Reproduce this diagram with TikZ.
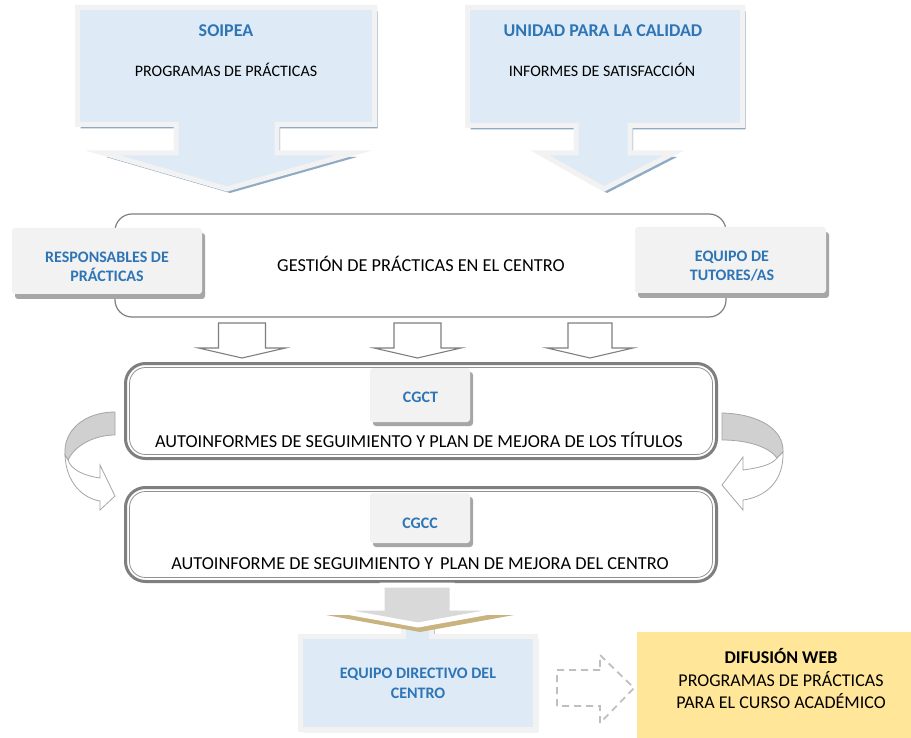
\documentclass[tikz,border=0pt]{standalone}
\usepackage{fontspec}
\setmainfont{Carlito}
\definecolor{lblue}{HTML}{DEEBF7}
\definecolor{bord}{HTML}{F2F2F2}
\definecolor{shblue}{HTML}{8FAAC4}
\definecolor{lgray}{HTML}{F2F2F2}
\definecolor{shgray}{HTML}{A6A6A6}
\definecolor{tblue}{HTML}{2E75B6}
\definecolor{lgr}{HTML}{7F7F7F}
\definecolor{goldsh}{HTML}{C9B37F}
\definecolor{yel}{HTML}{FFE699}
\definecolor{dgray}{HTML}{BFBFBF}
\definecolor{bandfill}{HTML}{D0D0D0}
\definecolor{bandline}{HTML}{A5A5A5}
\definecolor{stemgray}{HTML}{D9D9D9}
\begin{document}
\begin{tikzpicture}[x=1pt,y=-1pt,
  callout/.style={fill=lblue, draw=bord, line width=5pt, line join=miter},
  calloutshadow/.style={fill=shblue},
  labelbox/.style={fill=lgray, rounded corners=3pt},
  labelshadow/.style={fill=shgray, rounded corners=3pt},
  btitle/.style={font=\fontsize{18}{22}\selectfont\bfseries, text=tblue, inner sep=0pt, anchor=base},
  blabel/.style={font=\fontsize{16}{19.5}\selectfont\bfseries, text=tblue, inner sep=0pt, anchor=base, align=center},
  ttext/.style={font=\fontsize{16}{19}\selectfont, inner sep=0pt, anchor=base},
  bigtext/.style={font=\fontsize{18.3}{22}\selectfont, inner sep=0pt, anchor=base, align=center},
  hollow/.style={draw=lgr, fill=white, line width=1.1pt, line join=miter},
  outerline/.style={draw=lgr, line width=3pt, rounded corners=20pt},
  innerline/.style={draw=lgr!85, line width=0.8pt, rounded corners=16pt},
  bandstyle/.style={fill=bandfill, draw=bandline, line width=0.8pt},
  frontstyle/.style={fill=white, draw=bandline, line width=0.8pt},
  dasharrow/.style={draw=dgray, line width=1.8pt, dash pattern=on 7pt off 5pt},
  stemarrow/.style={fill=stemgray, draw=white, line width=5pt, line join=miter}
]
\useasboundingbox (0,0) rectangle (911,738);
\fill[white] (0,0) rectangle (911,738);

% ---------- top callout arrows ----------
\def\soipea{(77.5,7.5) -- (374.5,7.5) -- (374.5,124.5) -- (277,124.5) -- (277,153) -- (354,153) -- (227,189) -- (103,153) -- (176,153) -- (176,124.5) -- (77.5,124.5) -- cycle}
\fill[calloutshadow, shift={(3,4)}] \soipea;
\path[callout] \soipea;
\node[btitle] (soipea) at (226,37) {SOIPEA};
\node[ttext] (progs) at (226,77) {PROGRAMAS DE PRÁCTICAS};

\def\unidad{(467.5,7.5) -- (742.5,7.5) -- (742.5,125.5) -- (630,125.5) -- (630,153) -- (674,153) -- (604,189) -- (540,153) -- (576,153) -- (576,125.5) -- (467.5,125.5) -- cycle}
\fill[calloutshadow, shift={(3,4)}] \unidad;
\path[callout] \unidad;
\node[btitle] (unidad) at (603,37) {UNIDAD PARA LA CALIDAD};
\node[ttext] (informes) at (602,77) {INFORMES DE SATISFACCIÓN};

% ---------- gestion box ----------
\draw[draw=lgr, line width=1.2pt, rounded corners=17pt, fill=white] (115,214) rectangle (726,317);
\node[bigtext] (gestion) at (421,272) {GESTIÓN DE PRÁCTICAS EN EL CENTRO};

\fill[labelshadow] (15,233) rectangle (205,299);
\fill[labelbox] (12,228) rectangle (202,294);
\node[blabel] (resp) at (107,282) {RESPONSABLES DE\\PRÁCTICAS};

\fill[labelshadow] (638,232) rectangle (829,298);
\fill[labelbox] (635,227) rectangle (826,293);
\node[blabel] (tutores) at (732,281) {EQUIPO DE\\TUTORES/AS};

% ---------- hollow arrows ----------
\foreach \cx/\sh/\hh in {242/23.5/43.5, 417.5/23.5/43.5, 590/22/43}{
  \draw[hollow] (\cx-\sh,323) -- (\cx+\sh,323) -- (\cx+\sh,348) -- (\cx+\hh,348) -- (\cx,358) -- (\cx-\hh,348) -- (\cx-\sh,348) -- cycle;
}

% ---------- CGCT box ----------
\draw[outerline, fill=white] (125.5,363.5) rectangle (716.5,458.5);
\draw[innerline] (129.5,367.5) rectangle (712.5,454.5);
\fill[labelshadow] (373,372) rectangle (473,426);
\fill[labelbox] (370,368) rectangle (470,422);
\node[blabel] (cgct) at (420.5,402) {CGCT};
\node[bigtext] (autot) at (419,447) {AUTOINFORMES DE SEGUIMIENTO Y PLAN DE MEJORA DE LOS TÍTULOS};

% ---------- CGCC box ----------
\draw[outerline, fill=white] (125.5,487.5) rectangle (716.5,581.5);
\draw[innerline] (129.5,491.5) rectangle (712.5,577.5);
\fill[labelshadow] (373,497) rectangle (473,547);
\fill[labelbox] (370,493) rectangle (470,543);
\node[blabel] (cgcc) at (420,528) {CGCC};
\node[bigtext] (autoc) at (420,569) {AUTOINFORME DE SEGUIMIENTO Y\hspace{0.15em} PLAN DE MEJORA DEL CENTRO};

% ---------- curved arrows ----------
\path[bandstyle] (115,412) .. controls (85,412) and (63,430) .. (65,455) -- (68,460) .. controls (75,445) and (95,435) .. (115,435) -- cycle;
\path[frontstyle] (65,455) .. controls (66,482) and (82,498) .. (100,501) -- (100,510) -- (115,496) -- (100,465) -- (100,478) .. controls (85,476) and (71,470) .. (68,460) -- cycle;

\path[bandstyle] (722,413) .. controls (760,414) and (784,430) .. (783,452) -- (777,458) .. controls (770,448) and (750,440) .. (722,440) -- cycle;
\path[frontstyle] (783,452) .. controls (784,482) and (765,497) .. (743,500) -- (743,510) -- (722,485) -- (743,457) -- (743,470) .. controls (758,468) and (772,465) .. (777,458) -- cycle;

% ---------- equipo directivo ----------
\def\equipo{(300,636) -- (403.5,636) -- (403.5,614) -- (431.5,614) -- (431.5,636) -- (535,636) -- (535,729) -- (300,729) -- cycle}
\fill[calloutshadow, shift={(3,3)}] \equipo;
\path[callout] \equipo;
\node[blabel] (equipo) at (418,698) {EQUIPO DIRECTIVO DEL\\CENTRO};

% ---------- down arrow ----------
\def\downarr{(382,585) -- (452,585) -- (452,608) -- (512,608) -- (418,625) -- (324,608) -- (382,608) -- cycle}
\fill[goldsh, shift={(2,7)}] \downarr;
\path[stemarrow] \downarr;

% ---------- dashed arrow and web box ----------
\draw[dasharrow] (600,670) -- (557,670) -- (557,706) -- (600,706) -- (600,723) -- (634,688) -- (600,655) -- cycle;
\fill[yel] (637,632) rectangle (911,738);
\node[font=\fontsize{18}{22}\selectfont\bfseries, inner sep=0pt, anchor=base] (web) at (781,663) {DIFUSIÓN WEB};
\node[font=\fontsize{18}{22}\selectfont, inner sep=0pt, anchor=base, align=center] (webtxt) at (781,708) {PROGRAMAS DE PRÁCTICAS\\PARA EL CURSO ACADÉMICO};
\end{tikzpicture}
\end{document}
